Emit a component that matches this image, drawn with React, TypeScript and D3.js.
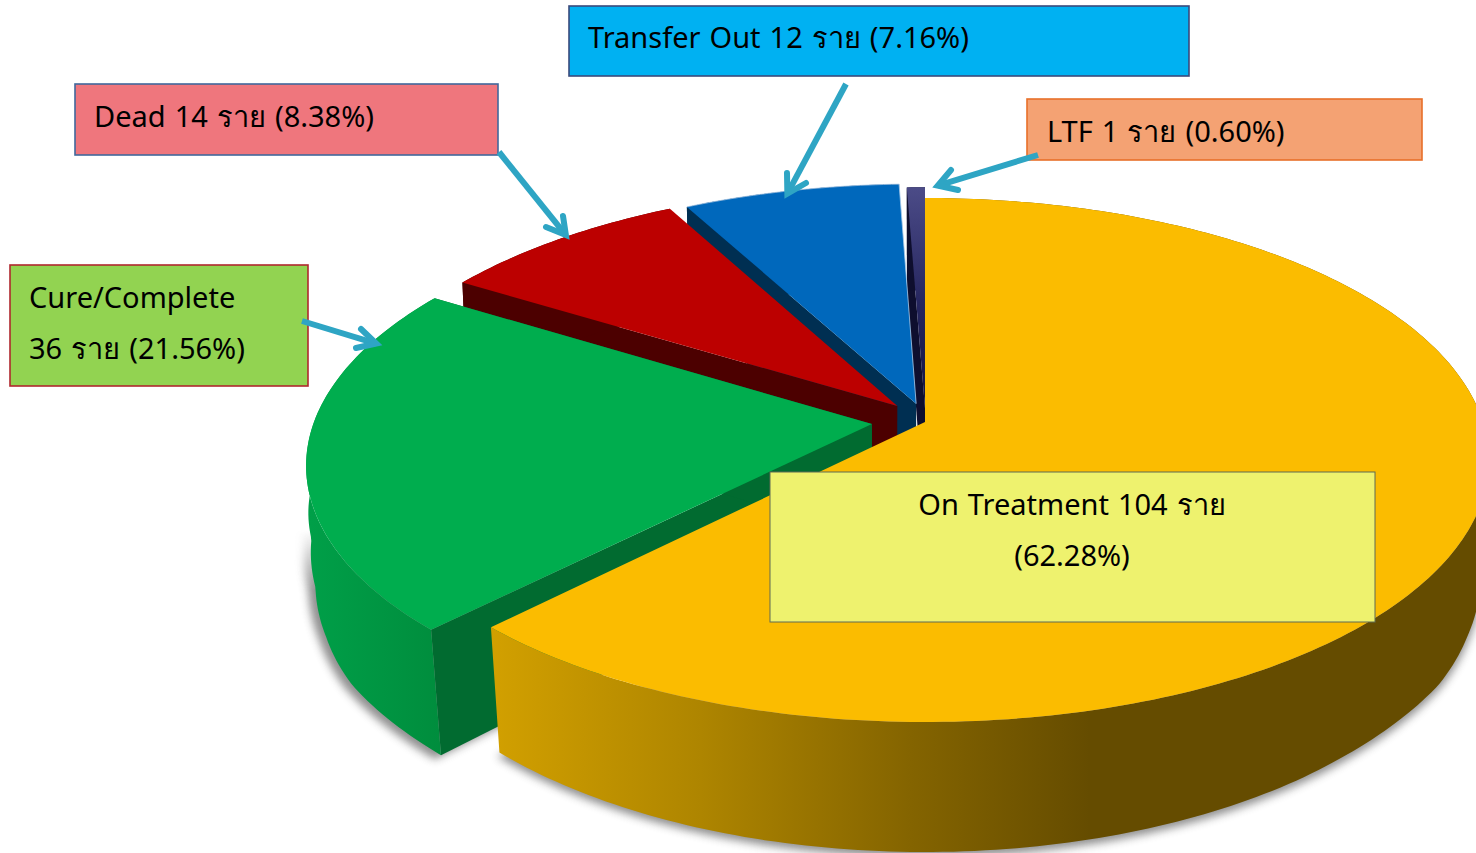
import React from "react";
import * as d3 from "d3";

// ---- data ----
const categories = ["On Treatment", "Cure/Complete", "Dead", "Transfer Out", "LTF"];
const caseCounts = [104, 36, 14, 12, 1];
const percentLabels = ["62.28", "21.56", "8.38", "7.16", "0.60"];
const topColors = ["#FBBC00", "#00AD4E", "#BC0000", "#0068BC", "url(#gPurple)"];
const wallColors = ["#654C00", "#016B30", "#4C0000", "#002F52", "#0E0E2E"];
const sideColors = ["url(#gYellow)", "url(#gGreen)", "#4C0000", "#002F52", "#0E0E2E"];
// explosion of each slice in the plane of the pie (fractions of the radius)
const explodeU = [0, -0.095, -0.05, -0.016, 0];
const explodeV = [0, -0.008, 0.063, 0.072, 0.055];

const boxX = [770, 10, 75, 569, 1027];
const boxY = [472, 265, 84, 6, 99];
const boxW = [605, 298, 423, 620, 395];
const boxH = [150, 121, 71, 70, 61];
const boxFill = ["#EEF26E", "#92D351", "#EF767D", "#00B1F2", "#F4A273"];
const boxStroke = ["#5F6B55", "#B0282E", "#41689C", "#3A4A7C", "#E8702A"];

const arrowStarts: [number, number][] = [[302, 321], [499, 152], [846, 84], [1038, 155]];
const arrowTips: [number, number][] = [[381, 345], [569, 239], [785, 198], [933, 187]];
const arrowBarbsA: [number, number][] = [[361, 329], [563, 216], [787, 173], [951, 170]];
const arrowBarbsB: [number, number][] = [[356, 348], [546, 227], [806, 183], [958, 190]];

// ---- perspective of the pie ----
const cx = 925, cy = 422, radX = 558, radY = 256.5, persp = 0.145;
const bottomScaleY = 1.05, depth = 115;
// how much the lower rim narrows, front to back
const bottomScaleX = d3
  .scaleLinear()
  .domain([-1.2, -0.81, -0.55, -0.37, -0.187, -0.008, 0.17, 0.3, 2])
  .range([0.978, 0.98, 0.99, 0.985, 0.985, 1.003, 1.047, 0.99, 0.99]);

type P = [number, number];
const top3d = (u: number, v: number): P => {
  const w = 1 + persp * v;
  return [cx + (radX * u) / w, cy - (radY * v) / w];
};
const bottom3d = (u: number, v: number): P => {
  const w = 1 + persp * v;
  return [cx + (bottomScaleX(v / w) * radX * u) / w, cy + depth - (bottomScaleY * radY * v) / w];
};

const pieGen = d3.pie<number>().sort(null).value((d) => d);
const arcs = pieGen(caseCounts);
const line = d3.line<P>();
const FONT = "'Noto Sans', 'Open Sans', sans-serif";

function arcPts(i: number, proj: (u: number, v: number) => P): P[] {
  const a = arcs[i];
  const n = Math.max(4, Math.ceil((a.endAngle - a.startAngle) * 60));
  return d3.range(n + 1).map((k) => {
    const t = a.startAngle + ((a.endAngle - a.startAngle) * k) / n;
    return proj(Math.sin(t) + explodeU[i], Math.cos(t) + explodeV[i]);
  });
}

function Slice({ i }: { i: number }) {
  const topArc = arcPts(i, top3d);
  const botArc = arcPts(i, bottom3d);
  const apexT = top3d(explodeU[i], explodeV[i]);
  const apexB = bottom3d(explodeU[i], explodeV[i]);
  const side = [...topArc, ...botArc.slice().reverse()];
  const wallStart = [apexT, topArc[0], botArc[0], apexB] as P[];
  const wallEnd = [apexT, topArc[topArc.length - 1], botArc[botArc.length - 1], apexB] as P[];
  return (
    <g>
      {i !== 0 && <path d={line(wallStart) + "Z"} fill={wallColors[i]} />}
      {i === 1 && <path d={line(wallEnd) + "Z"} fill={wallColors[i]} />}
      <path d={line(side) + "Z"} fill={sideColors[i]} />
      <path d={line([apexT, ...topArc]) + "Z"} fill={topColors[i]} />
      {i === 3 && (
        <path d={line([...topArc, apexT]) ?? ""} fill="none" stroke="#A9C9E8" strokeWidth={0.8} />
      )}
    </g>
  );
}

function Shadow({ i, dx, dy, mask }: { i: number; dx: number; dy: number; mask?: string }) {
  const botArc = arcPts(i, bottom3d);
  const apexB = bottom3d(explodeU[i], explodeV[i]);
  return (
    <g mask={mask}>
      <path
        d={line([apexB, ...botArc]) + "Z"}
        fill="#555"
        stroke="#555"
        strokeWidth={2}
        opacity={0.65}
        transform={`translate(${dx},${dy})`}
        filter="url(#blur)"
      />
    </g>
  );
}

const textLines = (i: number): string[] => {
  const c = categories[i], n = caseCounts[i], p = percentLabels[i];
  if (i === 0) return [`${c} ${n} ราย`, `(${p}%)`];
  if (i === 1) return [c, `${n} ราย (${p}%)`];
  return [`${c} ${n} ราย (${p}%)`];
};
const textBaselines = [[515, 566], [308, 359], [127], [48], [142]];
const textX = [1072, 29, 94, 588, 1047];

function Arrow({ i }: { i: number }) {
  const s = arrowStarts[i], tip = arrowTips[i];
  const len = Math.hypot(tip[0] - s[0], tip[1] - s[1]);
  const inner: P = [tip[0] - ((tip[0] - s[0]) / len) * 5, tip[1] - ((tip[1] - s[1]) / len) * 5];
  return (
    <g fill="none" stroke="#2EA5C4" strokeWidth={6}>
      <path d={line([s, inner]) ?? ""} />
      <path d={line([arrowBarbsA[i], inner, arrowBarbsB[i]]) ?? ""} strokeLinecap="round" strokeMiterlimit={8} />
    </g>
  );
}

export default function App() {
  const drawOrder = [4, 3, 2, 1, 0];
  return (
    <svg
      width={1476}
      height={853}
      viewBox="0 0 1476 853"
      style={{ position: "absolute", left: 0, top: 0, background: "#fff" }}
    >
      <defs>
        <filter id="blur" x="-10%" y="-10%" width="120%" height="120%">
          <feGaussianBlur stdDeviation={4} />
        </filter>
        <linearGradient id="gFade" gradientUnits="userSpaceOnUse" x1={0} x2={0} y1={530} y2={590}>
          <stop offset="0" stopColor="#000" />
          <stop offset="1" stopColor="#fff" />
        </linearGradient>
        <mask id="shadowFade" maskUnits="userSpaceOnUse" x={0} y={0} width={1476} height={853}>
          <rect x={0} y={0} width={1476} height={853} fill="url(#gFade)" />
        </mask>
        <linearGradient id="gYellow" gradientUnits="userSpaceOnUse" x1={491} x2={1090} y1={0} y2={0}>
          <stop offset="0" stopColor="#D2A000" />
          <stop offset="0.35" stopColor="#AE8500" />
          <stop offset="0.7" stopColor="#846400" />
          <stop offset="1" stopColor="#654C00" />
        </linearGradient>
        <linearGradient id="gGreen" gradientUnits="userSpaceOnUse" x1={310} x2={440} y1={0} y2={0}>
          <stop offset="0" stopColor="#009F48" />
          <stop offset="1" stopColor="#008D3D" />
        </linearGradient>
        <linearGradient id="gPurple" gradientUnits="userSpaceOnUse" x1={0} x2={0} y1={186} y2={420}>
          <stop offset="0" stopColor="#4C4C88" />
          <stop offset="0.5" stopColor="#26265F" />
          <stop offset="1" stopColor="#12123E" />
        </linearGradient>
      </defs>

      <Shadow i={1} dx={-6} dy={3} mask="url(#shadowFade)" />
      <Shadow i={0} dx={0} dy={4} />
      {drawOrder.map((i) => (
        <Slice key={i} i={i} />
      ))}

      {categories.map((_, i) => (
        <rect
          key={i}
          x={boxX[i]}
          y={boxY[i]}
          width={boxW[i]}
          height={boxH[i]}
          fill={boxFill[i]}
          stroke={boxStroke[i]}
          strokeWidth={i === 0 ? 1 : 1.6}
        />
      ))}

      {arrowStarts.map((_, i) => (
        <Arrow key={i} i={i} />
      ))}

      {categories.map((_, i) =>
        textLines(i).map((t, j) => (
          <text
            key={`${i}-${j}`}
            x={textX[i]}
            y={textBaselines[i][j]}
            textAnchor={i === 0 ? "middle" : "start"}
            fontFamily={FONT}
            fontSize={29}
            wordSpacing={1.5}
            fill="#000"
          >
            {t}
          </text>
        ))
      )}
    </svg>
  );
}
